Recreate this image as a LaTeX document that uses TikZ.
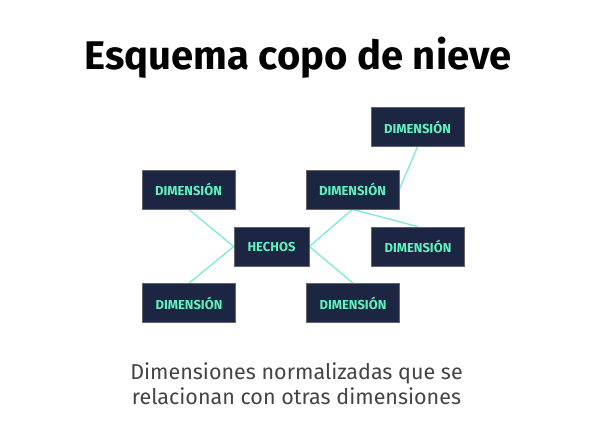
\documentclass[tikz,border=0pt]{standalone}
\usepackage{fontspec}
\setmainfont{Fira Sans}
\usetikzlibrary{backgrounds}
\definecolor{boxfill}{HTML}{1C2541}
\definecolor{mint}{HTML}{5EF2BE}
\definecolor{linec}{HTML}{86E8DA}
\definecolor{subgray}{HTML}{444444}
\begin{document}
\begin{tikzpicture}[x=1pt,y=-1pt,
  dimbox/.style={draw=black!60,line width=0.6pt,fill=boxfill,text=mint,minimum width=93pt,minimum height=39pt,inner sep=0pt,font=\fontsize{13}{15}\selectfont\bfseries},
  link/.style={draw=linec,line width=1.4pt}]
\node[font=\fontsize{40}{48}\selectfont\bfseries] (title) at (298,58) {Esquema copo de nieve};
\node[dimbox] (d1) at (188.5,189.5) {DIMENSIÓN};
\node[dimbox] (d2) at (352.5,189.5) {DIMENSIÓN};
\node[dimbox] (d3) at (417.5,127) {DIMENSIÓN};
\node[dimbox,minimum width=75pt] (h) at (271.5,246.5) {HECHOS};
\node[dimbox] (d4) at (418,246.5) {DIMENSIÓN};
\node[dimbox] (d5) at (189,303) {DIMENSIÓN};
\node[dimbox] (d6) at (353,303) {DIMENSIÓN};
\node[text=subgray,align=center,font=\fontsize{21.5}{25}\selectfont] (sub) at (296.5,384) {Dimensiones normalizadas que se\\relacionan con otras dimensiones};
\begin{scope}[on background layer]
\fill[white] (0,0) rectangle (593,441);
\draw[link] (d1.south) -- (h.west);
\draw[link] (h.west) -- (d5.north);
\draw[link] (h.east) -- (d2.south);
\draw[link] (h.east) -- (d6.north);
\draw[link] (d2.south) -- (d4.north);
\draw[link] (d2.east) -- (d3.south);
\end{scope}
\useasboundingbox (0,0) rectangle (593,441);
\end{tikzpicture}
\end{document}
